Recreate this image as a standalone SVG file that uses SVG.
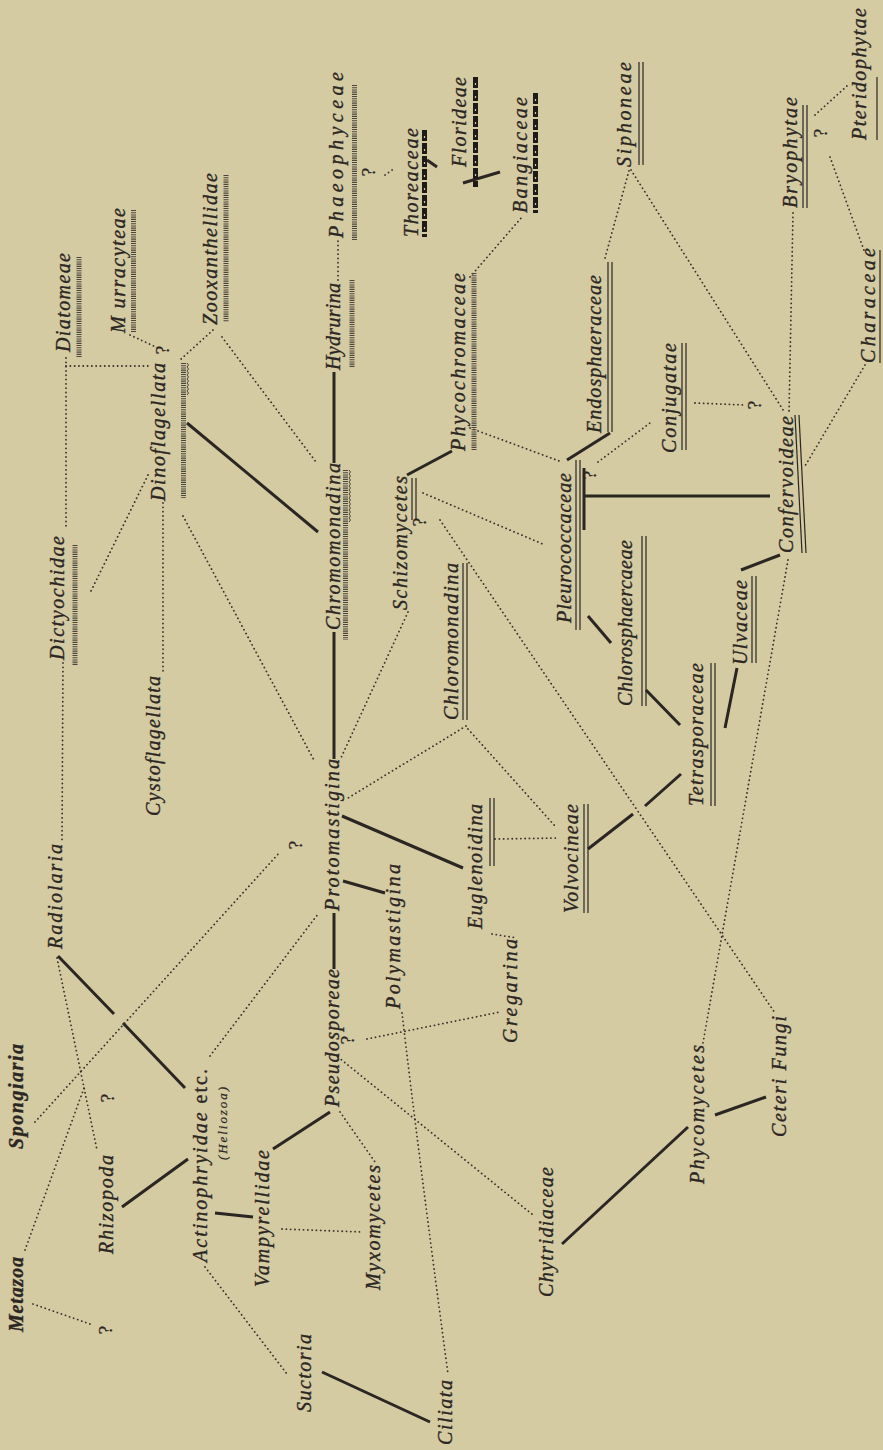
<svg xmlns="http://www.w3.org/2000/svg" width="883" height="1450" viewBox="0 0 883 1450">
<style>
.t{font-family:"Liberation Serif",serif;font-style:italic;font-size:20px;fill:#2b2622;stroke:#2b2622;stroke-width:0.35}
.b{font-weight:bold}
.sm{font-size:13px;stroke-width:0.2}
.q{font-family:"Liberation Serif",serif;font-size:19px;fill:#2b2622;stroke:#2b2622;stroke-width:0.3}
.s{stroke:#2b2622;stroke-width:3;fill:none}
.d{stroke:#3a332b;stroke-width:1.8;fill:none;stroke-linecap:round;stroke-dasharray:0.1 4.2}
.h{stroke:#4a443c;stroke-width:5;stroke-dasharray:1.1 1.1;fill:none}
.u{stroke:#2b2622;stroke-width:1.2;fill:none}
.k{stroke:#1e1a17;stroke-width:5;stroke-dasharray:11 2;fill:none}
.kw{stroke:#d5cba3;stroke-width:1.2;stroke-dasharray:2 11;fill:none}
.w{stroke:#4a443c;stroke-width:1;fill:none}
</style>
<rect width="883" height="1450" fill="#d5cba3"/>
<g id="connectors">
<line class="s" x1="187" y1="423" x2="318" y2="532"/>
<line class="s" x1="334" y1="969" x2="334" y2="913"/>
<line class="s" x1="334" y1="759" x2="334" y2="632"/>
<line class="s" x1="334" y1="463" x2="334" y2="372"/>
<line class="s" x1="407" y1="475" x2="452" y2="451"/>
<line class="s" x1="342" y1="816" x2="463" y2="868"/>
<line class="s" x1="343" y1="881" x2="385" y2="893"/>
<line class="s" x1="58" y1="956" x2="114" y2="1014"/>
<line class="s" x1="123" y1="1023" x2="185" y2="1088"/>
<line class="s" x1="122" y1="1207" x2="188" y2="1159"/>
<line class="s" x1="215" y1="1213" x2="253" y2="1217"/>
<line class="s" x1="273" y1="1149" x2="330" y2="1112"/>
<line class="s" x1="322" y1="1372" x2="430" y2="1422"/>
<line class="s" x1="562" y1="1244" x2="688" y2="1127"/>
<line class="s" x1="715" y1="1115" x2="766" y2="1097"/>
<line class="s" x1="681" y1="774" x2="645" y2="806"/>
<line class="s" x1="633" y1="814" x2="588" y2="849"/>
<line class="s" x1="725" y1="728" x2="737" y2="668"/>
<line class="s" x1="741" y1="570" x2="780" y2="555"/>
<line class="s" x1="646" y1="690" x2="680" y2="725"/>
<line class="s" x1="588" y1="616" x2="611" y2="643"/>
<line class="s" x1="567" y1="460" x2="610" y2="433"/>
<line class="s" x1="584" y1="496" x2="770" y2="496"/>
<line class="s" x1="584" y1="468" x2="584" y2="530"/>
<line class="s" x1="427" y1="160" x2="437" y2="167"/>
<line class="s" x1="463" y1="183" x2="500" y2="172"/>
<line class="d" x1="66" y1="358" x2="66" y2="527"/>
<line class="d" x1="66" y1="366" x2="148" y2="366"/>
<line class="d" x1="63" y1="663" x2="62" y2="841"/>
<line class="d" x1="130" y1="335" x2="158" y2="348"/>
<line class="d" x1="213" y1="330" x2="180" y2="360"/>
<line class="d" x1="222" y1="337" x2="316" y2="462"/>
<line class="d" x1="148" y1="475" x2="90" y2="593"/>
<line class="d" x1="163" y1="503" x2="163" y2="673"/>
<line class="d" x1="183" y1="516" x2="315" y2="762"/>
<line class="d" x1="338" y1="280" x2="338" y2="240"/>
<line class="d" x1="385" y1="175" x2="395" y2="168"/>
<line class="d" x1="470" y1="277" x2="522" y2="217"/>
<line class="d" x1="470" y1="428" x2="562" y2="462"/>
<line class="d" x1="408" y1="612" x2="340" y2="760"/>
<line class="d" x1="423" y1="493" x2="545" y2="545"/>
<line class="d" x1="440" y1="520" x2="775" y2="1013"/>
<line class="d" x1="466" y1="726" x2="348" y2="798"/>
<line class="d" x1="468" y1="729" x2="555" y2="826"/>
<line class="d" x1="495" y1="839" x2="558" y2="838"/>
<line class="d" x1="492" y1="934" x2="517" y2="938"/>
<line class="d" x1="367" y1="1039" x2="500" y2="1012"/>
<path class="d" d="M402,1013 Q418,1150 448,1374"/>
<line class="d" x1="340" y1="1112" x2="375" y2="1162"/>
<line class="d" x1="338" y1="1057" x2="533" y2="1215"/>
<line class="d" x1="282" y1="1229" x2="363" y2="1232"/>
<line class="d" x1="205" y1="1267" x2="287" y2="1374"/>
<line class="d" x1="210" y1="1056" x2="318" y2="914"/>
<line class="d" x1="35" y1="1122" x2="280" y2="852"/>
<line class="d" x1="57" y1="958" x2="97" y2="1150"/>
<line class="d" x1="25" y1="1250" x2="84" y2="1088"/>
<line class="d" x1="33" y1="1304" x2="90" y2="1324"/>
<line class="d" x1="605" y1="258" x2="630" y2="167"/>
<line class="d" x1="631" y1="170" x2="785" y2="413"/>
<line class="d" x1="793" y1="213" x2="789" y2="413"/>
<line class="d" x1="815" y1="115" x2="848" y2="85"/>
<line class="d" x1="830" y1="157" x2="865" y2="253"/>
<line class="d" x1="865" y1="365" x2="805" y2="466"/>
<line class="d" x1="695" y1="403" x2="745" y2="405"/>
<line class="d" x1="598" y1="462" x2="650" y2="423"/>
<line class="d" x1="788" y1="560" x2="703" y2="1043"/>
</g>
<g id="questions">
<text class="q" transform="translate(114,1098) rotate(-90)" text-anchor="middle">?</text>
<text class="q" transform="translate(112,1330) rotate(-90)" text-anchor="middle">?</text>
<text class="q" transform="translate(302,845) rotate(-90)" text-anchor="middle">?</text>
<text class="q" transform="translate(354,1040) rotate(-90)" text-anchor="middle">?</text>
<text class="q" transform="translate(169,350) rotate(-90)" text-anchor="middle">?</text>
<text class="q" transform="translate(375,172) rotate(-90)" text-anchor="middle">?</text>
<text class="q" transform="translate(426,522) rotate(-90)" text-anchor="middle">?</text>
<text class="q" transform="translate(596,475) rotate(-90)" text-anchor="middle">?</text>
<text class="q" transform="translate(761,405) rotate(-90)" text-anchor="middle">?</text>
<text class="q" transform="translate(827,133) rotate(-90)" text-anchor="middle">?</text>
</g>
<g id="n-metazoa"><text class="t b" transform="translate(23,1332) rotate(-90)" textLength="75" lengthAdjust="spacing">Metazoa</text></g>
<g id="n-spongiaria"><text class="t b" transform="translate(23,1149) rotate(-90)" textLength="105" lengthAdjust="spacing">Spongiaria</text></g>
<g id="n-rhizopoda"><text class="t" transform="translate(113,1254) rotate(-90)" textLength="99" lengthAdjust="spacing">Rhizopoda</text></g>
<g id="n-actinophryidae"><text class="t" transform="translate(207,1262) rotate(-90)" textLength="193" lengthAdjust="spacing">Actinophryidae <tspan font-style="normal">etc.</tspan></text>
<text class="t sm" transform="translate(227,1160) rotate(-90)" textLength="73" lengthAdjust="spacing">(Heliozoa)</text></g>
<g id="n-vampyrellidae"><text class="t" transform="translate(269,1287) rotate(-90)" textLength="137" lengthAdjust="spacing">Vampyrellidae</text></g>
<g id="n-suctoria"><text class="t" transform="translate(311,1412) rotate(-90)" textLength="78" lengthAdjust="spacing">Suctoria</text></g>
<g id="n-myxomycetes"><text class="t" transform="translate(380,1290) rotate(-90)" textLength="125" lengthAdjust="spacing">Myxomycetes</text></g>
<g id="n-ciliata"><text class="t" transform="translate(452,1445) rotate(-90)" textLength="65" lengthAdjust="spacing">Ciliata</text></g>
<g id="n-chytridiaceae"><text class="t" transform="translate(553,1297) rotate(-90)" textLength="130" lengthAdjust="spacing">Chytridiaceae</text></g>
<g id="n-phycomycetes"><text class="t" transform="translate(704,1184) rotate(-90)" textLength="139" lengthAdjust="spacing">Phycomycetes</text></g>
<g id="n-ceteri-fungi"><text class="t" transform="translate(786,1137) rotate(-90)" textLength="121" lengthAdjust="spacing">Ceteri Fungi</text></g>
<g id="n-pseudosporeae"><text class="t" transform="translate(339,1107) rotate(-90)" textLength="138" lengthAdjust="spacing">Pseudosporeae</text></g>
<g id="n-protomastigina"><text class="t" transform="translate(339,911) rotate(-90)" textLength="152" lengthAdjust="spacing">Protomastigina</text></g>
<g id="n-chromomonadina"><text class="t" transform="translate(340,630) rotate(-90)" textLength="167" lengthAdjust="spacing">Chromomonadina</text>
<line class="h" x1="345.5" y1="470" x2="345.5" y2="640"/>
<path class="w" d="M349,470 q3,2 0,4 q3,2 0,4 q3,2 0,4 q3,2 0,4 q3,2 0,4 q3,2 0,4 q3,2 0,4 q3,2 0,4 q3,2 0,4 q3,2 0,4 q3,2 0,4 q3,2 0,4 q3,2 0,4"/></g>
<g id="n-hydrurina"><text class="t" transform="translate(340,370) rotate(-90)" textLength="87" lengthAdjust="spacing">Hydrurina</text>
<line class="h" x1="352" y1="280" x2="352" y2="368"/></g>
<g id="n-phaeophyceae"><text class="t" transform="translate(343,238) rotate(-90)" textLength="166" lengthAdjust="spacing">Phaeophyceae</text>
<line class="h" x1="354.5" y1="85" x2="354.5" y2="240"/></g>
<g id="n-thoreaceae"><text class="t" transform="translate(418,237) rotate(-90)" textLength="109" lengthAdjust="spacing">Thoreaceae</text>
<line class="k" x1="424.5" y1="130" x2="424.5" y2="237"/><line class="kw" x1="424.5" y1="136" x2="424.5" y2="237"/></g>
<g id="n-florideae"><text class="t" transform="translate(466,167) rotate(-90)" textLength="90" lengthAdjust="spacing">Florideae</text>
<line class="k" x1="475.5" y1="77" x2="475.5" y2="187"/><line class="kw" x1="475.5" y1="83" x2="475.5" y2="187"/></g>
<g id="n-bangiaceae"><text class="t" transform="translate(527,213) rotate(-90)" textLength="116" lengthAdjust="spacing">Bangiaceae</text>
<line class="k" x1="535.5" y1="93" x2="535.5" y2="213"/><line class="kw" x1="535.5" y1="99" x2="535.5" y2="213"/></g>
<g id="n-phycochromaceae"><text class="t" transform="translate(465,451) rotate(-90)" textLength="178" lengthAdjust="spacing">Phycochromaceae</text>
<line class="h" x1="474" y1="273" x2="474" y2="451"/></g>
<g id="n-schizomycetes"><text class="t" transform="translate(407,610) rotate(-90)" textLength="134" lengthAdjust="spacing">Schizomycetes</text>
<line class="u" x1="412" y1="478" x2="412" y2="520"/><line class="u" x1="416" y1="478" x2="416" y2="520"/></g>
<g id="n-chloromonadina"><text class="t" transform="translate(458,720) rotate(-90)" textLength="157" lengthAdjust="spacing">Chloromonadina</text>
<line class="u" x1="463" y1="563" x2="463" y2="720"/><line class="u" x1="467" y1="563" x2="467" y2="720"/></g>
<g id="n-pleurococcaceae"><text class="t" transform="translate(571,623) rotate(-90)" textLength="150" lengthAdjust="spacing">Pleurococcaceae</text>
<line class="u" x1="576" y1="460" x2="576" y2="630"/><line class="u" x1="580" y1="460" x2="580" y2="630"/></g>
<g id="n-endosphaeraceae"><text class="t" transform="translate(601,433) rotate(-90)" textLength="158" lengthAdjust="spacing">Endosphaeraceae</text>
<line class="u" x1="608" y1="262" x2="608" y2="432"/><line class="u" x1="612" y1="262" x2="612" y2="432"/></g>
<g id="n-siphoneae"><text class="t" transform="translate(631,167) rotate(-90)" textLength="105" lengthAdjust="spacing">Siphoneae</text>
<line class="u" x1="639" y1="62" x2="639" y2="165"/><line class="u" x1="643" y1="62" x2="643" y2="165"/></g>
<g id="n-conjugatae"><text class="t" transform="translate(676,453) rotate(-90)" textLength="110" lengthAdjust="spacing">Conjugatae</text>
<line class="u" x1="682" y1="343" x2="682" y2="450"/><line class="u" x1="686" y1="343" x2="686" y2="450"/></g>
<g id="n-confervoideae"><text class="t" transform="translate(793,553) rotate(-90)" textLength="137" lengthAdjust="spacing">Confervoideae</text>
<line class="u" x1="795" y1="415" x2="802" y2="553"/><line class="u" x1="799" y1="415" x2="806" y2="553"/></g>
<g id="n-bryophytae"><text class="t" transform="translate(797,208) rotate(-90)" textLength="111" lengthAdjust="spacing">Bryophytae</text>
<line class="u" x1="803" y1="105" x2="803" y2="208"/><line class="u" x1="807" y1="105" x2="807" y2="208"/></g>
<g id="n-pteridophytae"><text class="t" transform="translate(866,140) rotate(-90)" textLength="132" lengthAdjust="spacing">Pteridophytae</text>
<line class="u" x1="877" y1="77" x2="877" y2="140"/></g>
<g id="n-characeae"><text class="t" transform="translate(875,363) rotate(-90)" textLength="115" lengthAdjust="spacing">Characeae</text>
<line class="u" x1="880" y1="250" x2="880" y2="363"/></g>
<g id="n-ulvaceae"><text class="t" transform="translate(747,665) rotate(-90)" textLength="85" lengthAdjust="spacing">Ulvaceae</text>
<line class="u" x1="752" y1="576" x2="752" y2="663"/><line class="u" x1="756" y1="576" x2="756" y2="663"/></g>
<g id="n-chlorosphaercaeae"><text class="t" transform="translate(632,706) rotate(-90)" textLength="166" lengthAdjust="spacing">Chlorosphaercaeae</text>
<line class="u" x1="642" y1="536" x2="642" y2="706"/><line class="u" x1="646" y1="536" x2="646" y2="706"/></g>
<g id="n-tetrasporaceae"><text class="t" transform="translate(703,806) rotate(-90)" textLength="143" lengthAdjust="spacing">Tetrasporaceae</text>
<line class="u" x1="711" y1="663" x2="711" y2="806"/><line class="u" x1="715" y1="663" x2="715" y2="806"/></g>
<g id="n-volvocineae"><text class="t" transform="translate(578,913) rotate(-90)" textLength="109" lengthAdjust="spacing">Volvocineae</text>
<line class="u" x1="584" y1="804" x2="584" y2="913"/><line class="u" x1="588" y1="804" x2="588" y2="913"/></g>
<g id="n-euglenoidina"><text class="t" transform="translate(482,929) rotate(-90)" textLength="125" lengthAdjust="spacing">Euglenoidina</text>
<line class="u" x1="490" y1="798" x2="490" y2="866"/><line class="u" x1="494" y1="798" x2="494" y2="866"/></g>
<g id="n-polymastigina"><text class="t" transform="translate(400,1009) rotate(-90)" textLength="145" lengthAdjust="spacing">Polymastigina</text></g>
<g id="n-gregarina"><text class="t" transform="translate(517,1043) rotate(-90)" textLength="104" lengthAdjust="spacing">Gregarina</text></g>
<g id="n-cystoflagellata"><text class="t" transform="translate(160,816) rotate(-90)" textLength="140" lengthAdjust="spacing">Cystoflagellata</text></g>
<g id="n-radiolaria"><text class="t" transform="translate(62,949) rotate(-90)" textLength="105" lengthAdjust="spacing">Radiolaria</text></g>
<g id="n-dictyochidae"><text class="t" transform="translate(64,660) rotate(-90)" textLength="124" lengthAdjust="spacing">Dictyochidae</text>
<line class="h" x1="75" y1="545" x2="75" y2="665"/></g>
<g id="n-diatomeae"><text class="t" transform="translate(70,352) rotate(-90)" textLength="99" lengthAdjust="spacing">Diatomeae</text>
<line class="h" x1="79" y1="257" x2="79" y2="358"/></g>
<g id="n-murracyteae"><text class="t" transform="translate(125,333) rotate(-90)" textLength="125" lengthAdjust="spacing">M urracyteae</text>
<line class="h" x1="133.5" y1="210" x2="133.5" y2="333"/></g>
<g id="n-zooxanthellidae"><text class="t" transform="translate(217,325) rotate(-90)" textLength="152" lengthAdjust="spacing">Zooxanthellidae</text>
<line class="h" x1="226" y1="175" x2="226" y2="322"/></g>
<g id="n-dinoflagellata"><text class="t" transform="translate(165,501) rotate(-90)" textLength="138" lengthAdjust="spacing">Dinoflagellata</text>
<line class="h" x1="183.5" y1="363" x2="183.5" y2="498"/>
<path class="w" d="M187,363 q3,2 0,4 q3,2 0,4 q3,2 0,4 q3,2 0,4 q3,2 0,4 q3,2 0,4 q3,2 0,4 q3,2 0,4"/></g>
</svg>
